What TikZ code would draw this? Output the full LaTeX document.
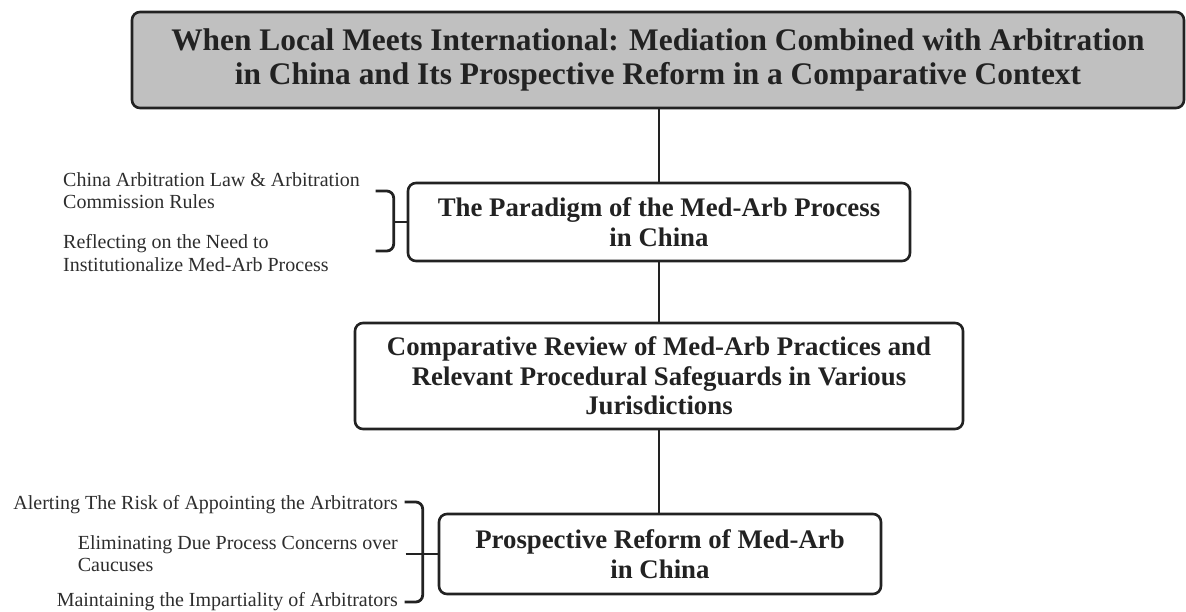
\documentclass[tikz,border=0pt]{standalone}
\usepackage{fontspec}
\setmainfont{Liberation Serif}
\usetikzlibrary{calc}
\definecolor{boxgray}{RGB}{192,192,192}
\definecolor{ink}{RGB}{34,34,34}
\definecolor{sideink}{RGB}{45,45,45}
\begin{document}
\begin{tikzpicture}[x=1pt,y=-1pt,
  box/.style={draw=ink, line width=2.6pt, rounded corners=8pt, text=ink, align=center, inner sep=0pt, font=\bfseries\fontsize{26.8}{29.5}\selectfont},
  side/.style={text=sideink, inner sep=0pt, font=\fontsize{20}{22}\selectfont},
  conn/.style={draw=ink, line width=2.6pt},
  bracket/.style={draw=ink, line width=2.8pt, rounded corners=7pt}]
\useasboundingbox (0,0) rectangle (1186,611);
% main boxes
\node[box, fill=boxgray, minimum width=1052pt, minimum height=96pt,
      font=\bfseries\fontsize{31.4}{34}\selectfont] (t) at (658,60)
  {When Local Meets International: Mediation Combined with Arbitration\\in China and Its Prospective Reform in a Comparative Context};
\node[box, minimum width=502pt, minimum height=78pt] (b2) at (659,222)
  {The Paradigm of the Med-Arb Process\\in China};
\node[box, minimum width=608pt, minimum height=106pt] (b3) at (659,376)
  {Comparative Review of Med-Arb Practices and\\Relevant Procedural Safeguards in Various\\Jurisdictions};
\node[box, minimum width=442pt, minimum height=80pt] (b4) at (660,554)
  {Prospective Reform of Med-Arb\\in China};
% connectors
\draw[conn] (b2.north) -- (b2.north |- t.south);
\draw[conn] (b2.south) -- (b2.south |- b3.north);
\draw[conn] (b3.south) -- (b3.south |- b4.north);
% side texts for box 2
\node[side, anchor=base west] (s1) at (63,186) {China Arbitration Law \& Arbitration};
\node[side, anchor=base west] (s2) at (63,208) {Commission Rules};
\node[side, anchor=base west] (s3) at (63,248) {Reflecting on the Need to};
\node[side, anchor=base west] (s4) at (63,271) {Institutionalize Med-Arb Process};
% side texts for box 4
\node[side, anchor=base east] (s5) at (398,509) {Alerting The Risk of Appointing the Arbitrators};
\node[side, anchor=base east] (s6) at (398,549) {Eliminating Due Process Concerns over};
\node[side, anchor=base west] (s7) at (s6.base west |- 0,571) {Caucuses};
\node[side, anchor=base east] (s8) at (398,606) {Maintaining the Impartiality of Arbitrators};
% bracket for box 2
\coordinate (k2) at ($(b2.west)+(-13,0)$);
\draw[bracket] ($(k2)+(-18,-31)$) -- ($(k2)+(0,-31)$) -- ($(k2)+(0,29)$) -- ($(k2)+(-18,29)$);
\draw[conn] (k2) -- (b2.west);
% bracket for box 4
\coordinate (k4) at ($(b4.west)+(-15,0)$);
\draw[bracket] ($(k4)+(-18,-52)$) -- ($(k4)+(0,-52)$) -- ($(k4)+(0,48)$) -- ($(k4)+(-18,48)$);
\draw[conn] ($(k4)+(-17,0)$) -- (b4.west);
\end{tikzpicture}
\end{document}
